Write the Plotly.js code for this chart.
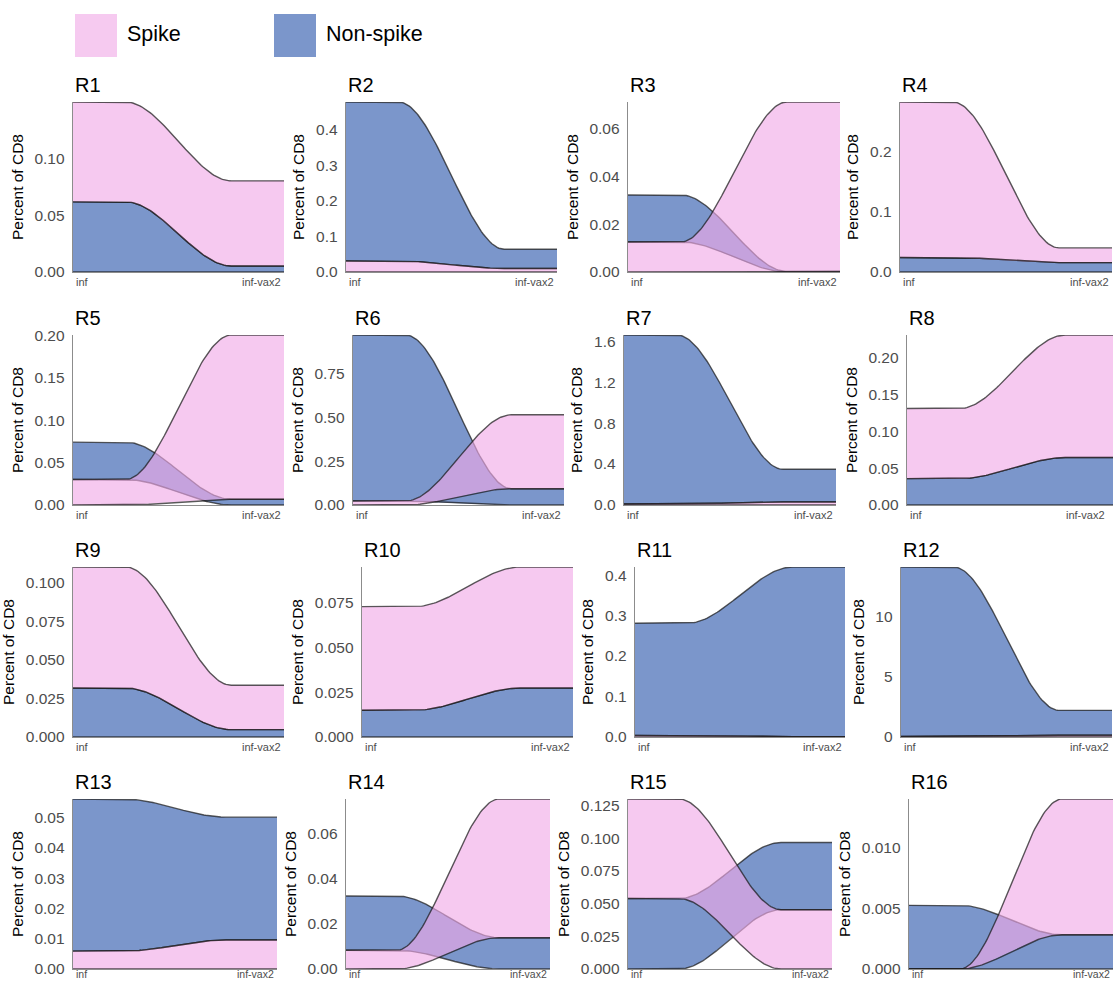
<!DOCTYPE html>
<html>
<head>
<meta charset="utf-8">
<script src="https://cdn.plot.ly/plotly-3.0.1.min.js"></script>
<style>
html,body{margin:0;padding:0;background:#fff;}
#chart{width:1113px;height:982px;}
</style>
</head>
<body>
<div id="chart"></div>
<script>
// ---------------- data ----------------
const panels = ['R1','R2','R3','R4','R5','R6','R7','R8','R9','R10','R11','R12','R13','R14','R15','R16'];
const timepoints = ['inf','inf-vax2'];
const groups = ['Spike','Non-spike'];
const spikeInf     = [0.088, 0.031, 0.0126, 0.258, 0.030, 0.023, 0.010, 0.095, 0.0786, 0.0577, 0.004, 0.04, 0.0059, 0.0083, 0.0762, 0.0];
const spikeVax2    = [0.075, 0.010, 0.0711, 0.0244, 0.1935, 0.421, 0.030, 0.166, 0.0288, 0.0674, 0.001, 0.15, 0.0096, 0.0614, 0.0454, 0.0112];
const nonspikeInf  = [0.0618, 0.448, 0.0197, 0.024, 0.044, 0.946, 1.65, 0.0357, 0.0318, 0.0149, 0.277, 14.13, 0.0503, 0.024, 0.0539, 0.00525];
const nonspikeVax2 = [0.0053, 0.054, 0.0002, 0.0156, 0.0067, 0.093, 0.319, 0.0643, 0.0048, 0.0273, 0.419, 2.07, 0.0406, 0.01385, 0.0514, 0.00282];

// ---------------- layout config (pixels / styles) ----------------
const W = 1113, H = 982;
// plot boxes: [left, right, top, bottom] in px
const boxes = [
  [73,284,102,272],[346,557,102,272],[628,840,102,272],[900,1112,102,272],
  [73,284,335,505],[353,564,335,505],[624,836,335,505],[907,1118,335,505],
  [73,284,567,737],[362,573,567,737],[635,845,567,737],[901,1112,567,737],
  [73,277,799,969],[346,550,799,969],[628,832,799,969],[909,1113,799,969]
];
const yTicks = [
  [0.05,'.2f'],[0.1,'.1f'],[0.02,'.2f'],[0.1,'.1f'],
  [0.05,'.2f'],[0.25,'.2f'],[0.4,'.1f'],[0.05,'.2f'],
  [0.025,'.3f'],[0.025,'.3f'],[0.1,'.1f'],[5,'d'],
  [0.01,'.2f'],[0.02,'.2f'],[0.025,'.3f'],[0.005,'.3f']
];
const FONT = 'Liberation Sans, Arial, Helvetica, sans-serif';
const PINK_FILL = 'rgba(240,170,231,0.63)';
const PINK_SOLID = '#F6CAF0';
const BLUE_FILL = '#7B96CB';
const EDGE = 'rgba(25,25,25,0.72)';
const AXIS_COL = '#8c8c8c';
const STRATUM_W = 1/3;
const xPos = [1, 2];
const NSTEP = 60;

function smooth(t){ return t*t*(3-2*t); }

function edgePts(yA, yB){
  const xL = xPos[0]-STRATUM_W/2, xs = xPos[0]+STRATUM_W/2;
  const xe = xPos[1]-STRATUM_W/2, xR = xPos[1]+STRATUM_W/2;
  const xs_ = [xL, xs], ys_ = [yA, yA];
  for (let j=1;j<NSTEP;j++){
    const t=j/NSTEP;
    xs_.push(xs+(xe-xs)*t);
    ys_.push(yA+(yB-yA)*smooth(t));
  }
  xs_.push(xe, xR); ys_.push(yB, yB);
  return {x:xs_, y:ys_};
}

function stackAt(s, n){
  if (s <= n) return {spike:[0,s], non:[s,s+n]};
  return {non:[0,n], spike:[n,n+s]};
}

const traces = [];
const layout = {
  width: W, height: H,
  margin: {l:0,r:0,t:0,b:0},
  paper_bgcolor: '#fff', plot_bgcolor: '#fff',
  showlegend: false,
  font: {family: FONT, color: '#000'},
  annotations: [], shapes: []
};

panels.forEach((name, i) => {
  const k = i===0 ? '' : String(i+1);
  const xa = 'x'+k, ya = 'y'+k;
  const a = stackAt(spikeInf[i], nonspikeInf[i]);
  const b = stackAt(spikeVax2[i], nonspikeVax2[i]);
  const series = [
    {g: groups[1], a: a.non, b: b.non, fill: BLUE_FILL},
    {g: groups[0], a: a.spike, b: b.spike, fill: PINK_FILL}
  ];
  series.forEach(s => {
    const up = edgePts(s.a[1], s.b[1]);
    const lo = edgePts(s.a[0], s.b[0]);
    traces.push({
      type:'scatter', mode:'lines', name:s.g, xaxis:xa, yaxis:ya,
      x: up.x.concat(lo.x.slice().reverse()),
      y: up.y.concat(lo.y.slice().reverse()),
      fill:'toself', fillcolor:s.fill, line:{width:0}, hoverinfo:'skip'
    });
    traces.push({
      type:'scatter', mode:'lines', name:s.g, xaxis:xa, yaxis:ya,
      x: up.x.concat([null], lo.x), y: up.y.concat([null], lo.y),
      line:{color:EDGE, width:1.4}, connectgaps:false, hoverinfo:'skip'
    });
  });

  const [L,R,T,B] = boxes[i];
  const Rc = Math.min(R, W);
  const xL = xPos[0]-STRATUM_W/2, xR = xPos[1]+STRATUM_W/2;
  const xRng = [xL, xL + (xR-xL)*(Rc-L)/(R-L)];
  const ymax = Math.max(spikeInf[i]+nonspikeInf[i], spikeVax2[i]+nonspikeVax2[i]);

  layout['xaxis'+k] = {
    domain:[L/W, Rc/W], anchor: ya, range:xRng,
    showline:true, linecolor:AXIS_COL, linewidth:1.3,
    showgrid:false, zeroline:false, showticklabels:false, ticks:'', fixedrange:true
  };
  layout['yaxis'+k] = {
    domain:[1-B/H, 1-T/H], anchor: xa, range:[0, ymax],
    showline:true, linecolor:AXIS_COL, linewidth:1.3,
    showgrid:false, zeroline:false,
    tick0:0, dtick:yTicks[i][0], tickformat:yTicks[i][1],
    ticks:'outside', ticklen:4, tickcolor:'rgba(0,0,0,0)',
    tickfont:{size:15.5, color:'#4d4d4d', family:FONT},
    title:{text:'Percent of CD8', font:{size:15.5, color:'#000', family:FONT}, standoff:7},
    fixedrange:true
  };
  // panel title
  layout.annotations.push({
    text:name, xref:xa+' domain', yref:ya+' domain', x:0, y:1,
    xanchor:'left', yanchor:'bottom', yshift:4, showarrow:false,
    font:{size:20, color:'#000', family:FONT}
  });
  // x tick labels (left/right aligned like the reference)
  const lastRow = i >= 12;
  const xl = {
    xref:xa+' domain', yref:ya+' domain', y:0, showarrow:false,
    yanchor: lastRow ? 'bottom' : 'top',
    yshift: lastRow ? -(H - B) : -2,
    font:{size: lastRow ? 10.5 : 11, color:'#4d4d4d', family:FONT}
  };
  layout.annotations.push(Object.assign({}, xl, {
    text:timepoints[0], x:0, xanchor:'left', xshift:1
  }));
  layout.annotations.push(Object.assign({}, xl, {
    text:timepoints[1], x:(W-L)/(R-L) < 1 ? (W-L)/(R-L) : 1, xanchor:'right', xshift:-1
  }));
});

// legend (custom, large swatches)
const legendItems = [
  {label: groups[0], color: PINK_SOLID, x0: 75, x1: 117},
  {label: groups[1], color: BLUE_FILL, x0: 274, x1: 316}
];
legendItems.forEach(it => {
  layout.shapes.push({
    type:'rect', xref:'paper', yref:'paper',
    x0: it.x0/W, x1: it.x1/W, y0: 1-57/H, y1: 1-14/H,
    fillcolor: it.color, line:{width:0}
  });
  layout.annotations.push({
    text: it.label, xref:'paper', yref:'paper',
    x: (it.x1+8)/W, y: 1-34/H, xanchor:'left', yanchor:'middle', showarrow:false,
    font:{size:21.5, color:'#000', family:FONT}
  });
});

Plotly.newPlot('chart', traces, layout, {displayModeBar:false, staticPlot:true});
</script>
</body>
</html>
